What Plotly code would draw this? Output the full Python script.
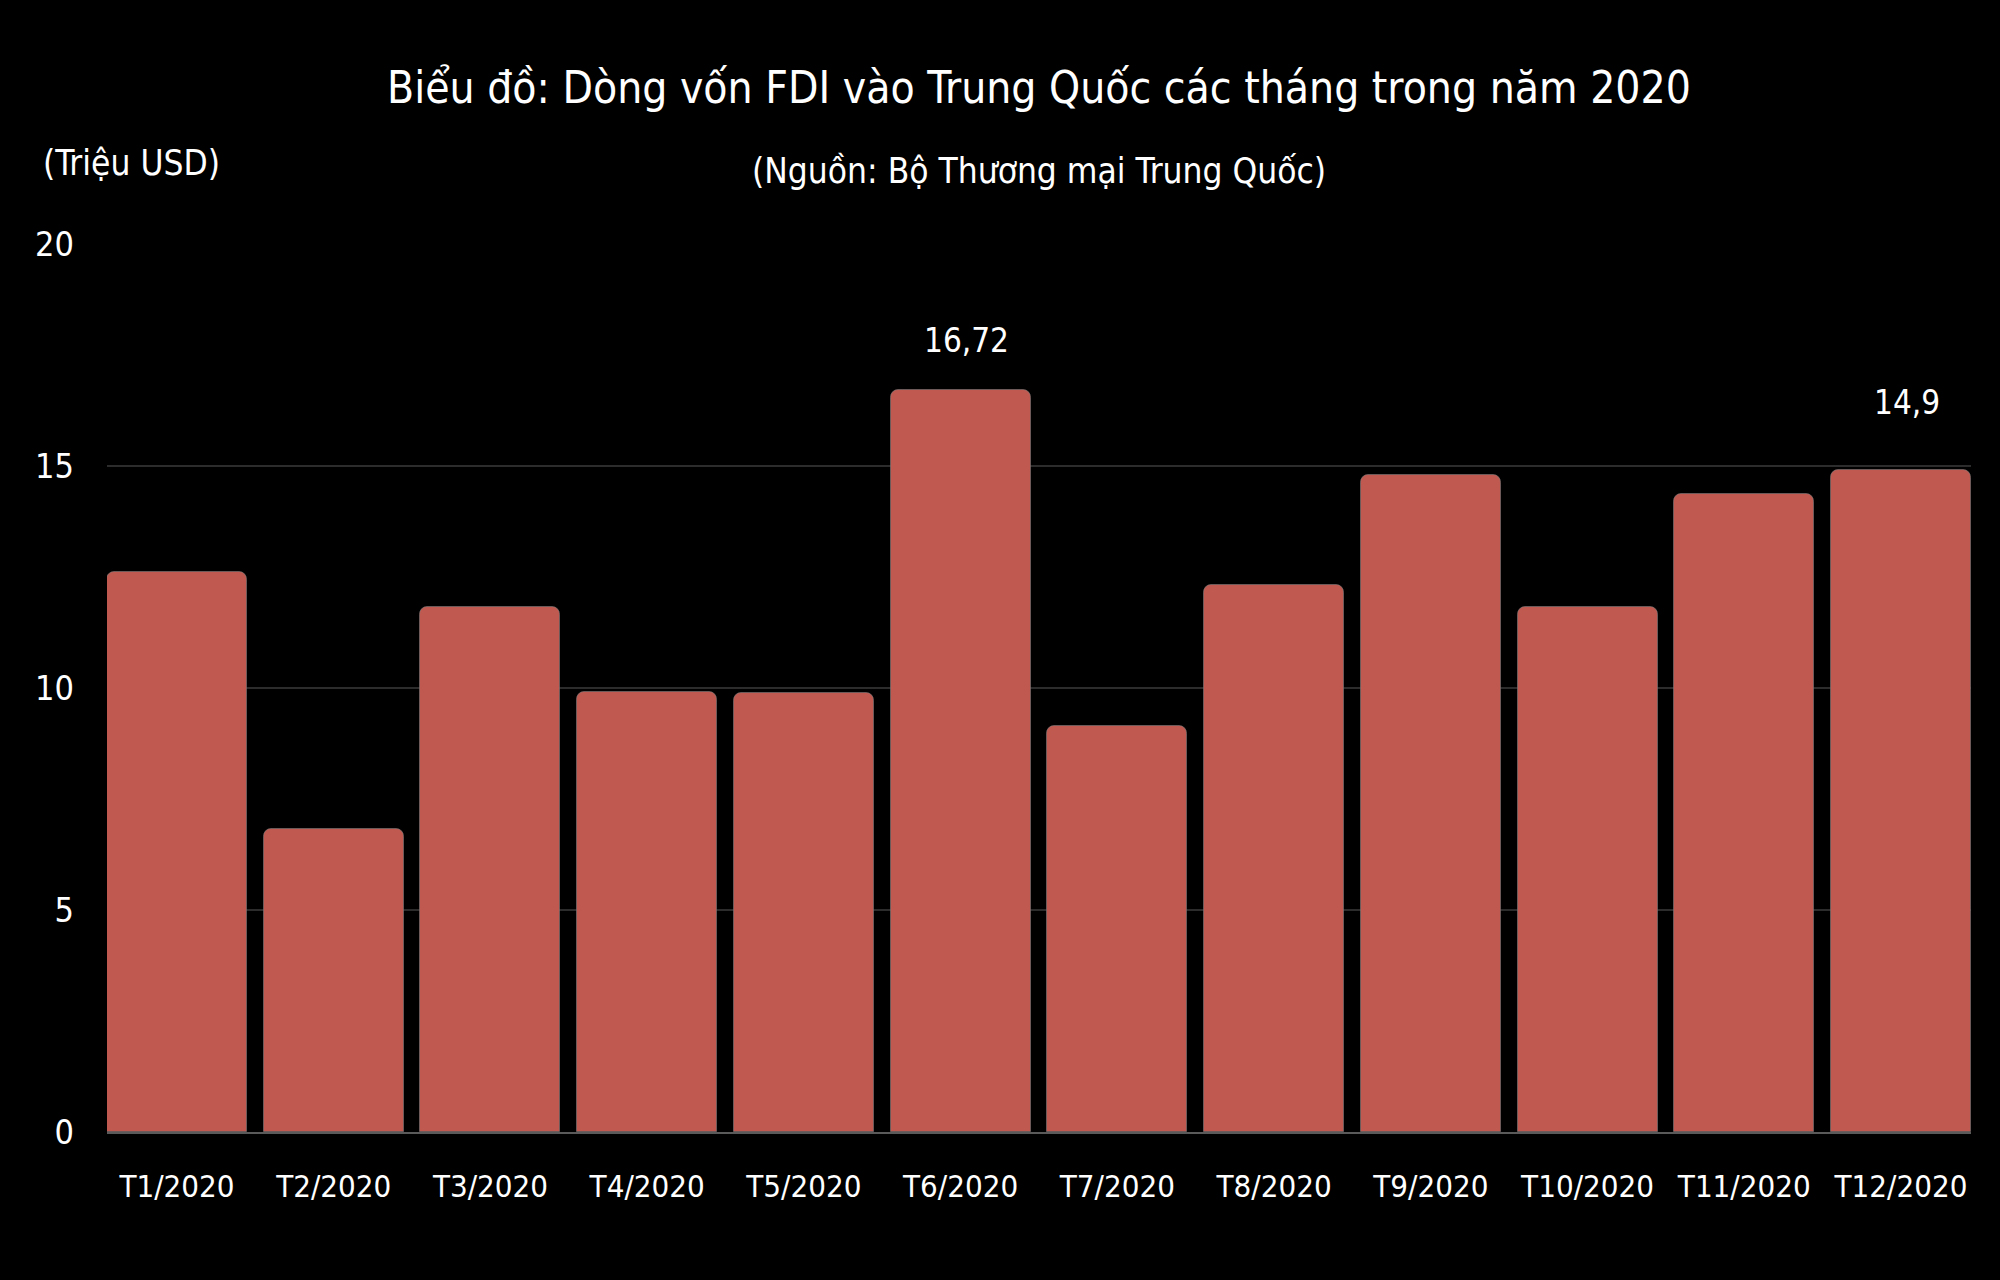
import plotly.graph_objects as go

months = ["T1/2020", "T2/2020", "T3/2020", "T4/2020", "T5/2020", "T6/2020",
          "T7/2020", "T8/2020", "T9/2020", "T10/2020", "T11/2020", "T12/2020"]
fdi = [12.61, 6.82, 11.82, 9.91, 9.88, 16.72, 9.14, 12.32, 14.80, 11.83, 14.38, 14.90]
label_months = ["T6/2020", "T12/2020"]
label_values = [16.72, 14.9]
label_texts = ["16,72", "14,9"]
y_ticks = [0, 5, 10, 15, 20]

FONT = "DejaVu Sans Condensed, Liberation Sans Narrow, Roboto Condensed, sans-serif"
BAR_W = 0.893

fig = go.Figure()
fig.add_trace(go.Bar(
    x=list(range(len(months))), y=fdi, width=BAR_W,
    marker=dict(color="#C05A51", line=dict(color="rgba(120,120,120,0.6)", width=1)),
    hoverinfo="x+y", showlegend=False,
))

shifts = [49, 68]
for m, v, t, s in zip(label_months, label_values, label_texts, shifts):
    fig.add_annotation(x=months.index(m), y=v, text=t, showarrow=False,
                       xref="x", yref="y", yanchor="middle", yshift=s, xshift=6,
                       font=dict(family=FONT, size=33, color="white"))

fig.add_annotation(text="Biểu đồ: Dòng vốn FDI vào Trung Quốc các tháng trong năm 2020",
                   xref="paper", yref="paper", x=0.5, y=1.1768, xanchor="center", yanchor="middle",
                   showarrow=False, font=dict(family=FONT, size=44, color="white"))
fig.add_annotation(text="(Nguồn: Bộ Thương mại Trung Quốc)",
                   xref="paper", yref="paper", x=0.5, y=1.0822, xanchor="center", yanchor="middle",
                   showarrow=False, font=dict(family=FONT, size=35, color="white"))
fig.add_annotation(text="(Triệu USD)",
                   xref="paper", yref="paper", x=-0.0354, y=1.091, xanchor="left", yanchor="middle",
                   showarrow=False, font=dict(family=FONT, size=35, color="white"))

fig.update_layout(
    width=2000, height=1280,
    margin=dict(l=107, r=29, t=244, b=148),
    paper_bgcolor="black", plot_bgcolor="black",
    bargap=0, barcornerradius=8,
    font=dict(family=FONT, color="white"),
)
fig.update_xaxes(
    range=[-BAR_W / 2, len(months) - 1 + BAR_W / 2],
    tickmode="array", tickvals=list(range(len(months))), ticktext=months,
    tickfont=dict(family=FONT, size=31, color="white"), tickangle=0,
    showgrid=False, zeroline=False, showline=True, linecolor="#5a5a5a", linewidth=2,
    ticks="", ticklabelstandoff=26,
)
fig.update_yaxes(
    range=[0, 20], tickmode="array", tickvals=y_ticks,
    tickfont=dict(family=FONT, size=34, color="white"),
    showgrid=True, gridcolor="#2c2c2c", gridwidth=1.5, zeroline=False, showline=False,
    ticks="", ticklabelstandoff=32,
)

fig.write_html(
    "out.html",
    config={"displayModeBar": False},
    post_script="document.body.style.margin='0';document.body.style.background='black';"
                "document.body.style.overflow='hidden';",
)
